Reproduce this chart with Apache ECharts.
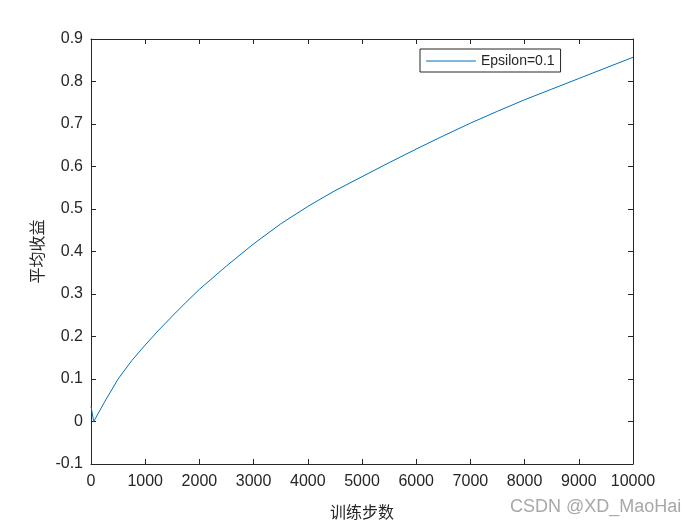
<!DOCTYPE html>
<html>
<head>
<meta charset="utf-8">
<script src="https://cdn.jsdelivr.net/npm/echarts@6/dist/echarts.min.js"></script>
<style>
  html, body { margin: 0; padding: 0; background: #fff; }
  #chart { width: 700px; height: 525px; }
</style>
</head>
<body>
<div id="chart"></div>
<script>
// training steps and average reward
const steps = [0, 50, 250, 500, 750, 1000, 1250, 1500, 1750, 2000, 2500, 3000, 3500, 4000, 4500,
  5000, 5500, 6000, 6500, 7000, 7500, 8000, 8500, 9000, 9500, 10000];
const rewards = [0.036, 0.0, 0.046, 0.100, 0.143, 0.180, 0.215, 0.248, 0.280, 0.311, 0.366, 0.418, 0.465,
  0.506, 0.543, 0.576, 0.609, 0.641, 0.672, 0.702, 0.730, 0.757, 0.782, 0.807, 0.832, 0.857];
const seriesName = 'Epsilon=0.1';
const xName = '训练步数';
const yName = '平均收益';

const chart = echarts.init(document.getElementById('chart'));
const axisColor = '#262626';
const numFont = 'Liberation Sans, Arial, sans-serif';
const labelFont = { color: axisColor, fontSize: 16, fontFamily: numFont };

const pairs = steps.map((s, i) => [s, rewards[i]]);

function boxAxis(extra) {
  return Object.assign({
    type: 'value',
    axisLine: { show: true, onZero: false, lineStyle: { color: axisColor } },
    axisTick: { inside: true, length: 5, lineStyle: { color: axisColor } },
    axisLabel: { show: false },
    splitLine: { show: false }
  }, extra);
}

const option = {
  animation: false,
  backgroundColor: '#fff',
  grid: { left: 91, top: 39, width: 542, height: 427 },
  legend: {
    left: 420, top: 49,
    data: [{ name: seriesName, icon: 'rect' }],
    itemWidth: 50, itemHeight: 1,
    padding: [5, 6, 4, 6],
    borderColor: axisColor, borderWidth: 1,
    textStyle: { color: axisColor, fontSize: 14, fontFamily: numFont }
  },
  xAxis: [
    boxAxis({
      min: 0, max: 10000, interval: 1000,
      axisLabel: Object.assign({ margin: 10, formatter: v => String(v) }, labelFont),
      name: xName, nameLocation: 'middle', nameGap: 40,
      nameTextStyle: { color: axisColor, fontSize: 16, fontFamily: 'Noto Sans CJK SC' }
    }),
    boxAxis({ position: 'top', min: 0, max: 10000, interval: 1000 })
  ],
  yAxis: [
    boxAxis({
      min: -0.1, max: 0.9, interval: 0.1,
      axisLabel: Object.assign({ margin: 8, formatter: v => String(Math.round(v * 10) / 10) }, labelFont),
      name: yName, nameLocation: 'middle', nameGap: 41,
      nameTextStyle: { color: axisColor, fontSize: 16, fontFamily: 'Noto Sans CJK SC' }
    }),
    boxAxis({ position: 'right', min: -0.1, max: 0.9, interval: 0.1 })
  ],
  series: [
    {
      name: seriesName,
      type: 'line',
      data: pairs,
      symbol: 'none',
      smooth: false,
      lineStyle: { color: '#0072BD', width: 1 },
      itemStyle: { color: '#0072BD' }
    }
  ],
  graphic: [
    {
      type: 'text', left: 510, top: 498,
      style: { text: 'CSDN @XD_MaoHai', fill: '#a8a8a8', fontSize: 18, fontFamily: numFont }
    }
  ]
};
chart.setOption(option);
</script>
</body>
</html>
